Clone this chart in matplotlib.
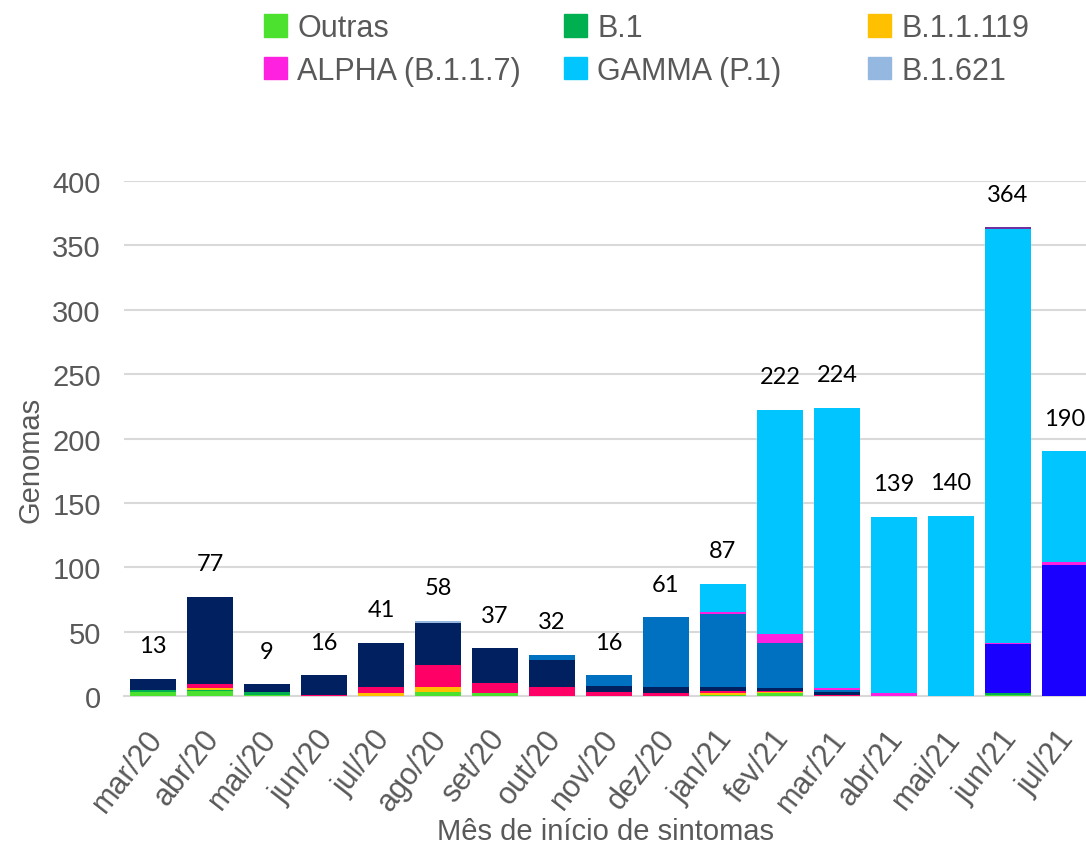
import numpy as np
import matplotlib
matplotlib.use('Agg')
import matplotlib.pyplot as plt
import matplotlib.transforms as mtransforms
from matplotlib.patches import Patch

months = ['mar/20', 'abr/20', 'mai/20', 'jun/20', 'jul/20', 'ago/20', 'set/20', 'out/20',
          'nov/20', 'dez/20', 'jan/21', 'fev/21', 'mar/21', 'abr/21', 'mai/21', 'jun/21', 'jul/21']

# genomes per lineage, stacked bottom to top
outras   = [3, 4, 1, 0, 0, 3, 2, 0, 0, 0, 1, 2, 0, 0, 0, 1, 0]
b1       = [2, 1, 2, 0, 0, 0, 0, 0, 0, 0, 0, 0, 0, 0, 0, 1, 0]
b11119   = [0, 1, 0, 0, 2, 4, 0, 0, 0, 0, 1, 1, 0, 0, 0, 0, 0]
b1133    = [0, 3, 0, 1, 5, 17, 8, 7, 3, 2, 2, 1, 1, 0, 0, 0, 0]
b1128    = [8, 68, 6, 15, 34, 33, 27, 21, 5, 5, 3, 2, 2, 0, 0, 0, 0]
p2       = [0, 0, 0, 0, 0, 0, 0, 4, 8, 54, 57, 35, 2, 0, 0, 0, 0]
delta    = [0, 0, 0, 0, 0, 0, 0, 0, 0, 0, 0, 0, 0, 0, 0, 38, 102]
alpha    = [0, 0, 0, 0, 0, 0, 0, 0, 0, 0, 1, 7, 1, 2, 0, 1, 2]
gamma    = [0, 0, 0, 0, 0, 0, 0, 0, 0, 0, 22, 174, 218, 137, 140, 322, 86]
b1621    = [0, 0, 0, 0, 0, 1, 0, 0, 0, 0, 0, 0, 0, 0, 0, 0, 0]
other    = [0, 0, 0, 0, 0, 0, 0, 0, 0, 0, 0, 0, 0, 0, 0, 1, 0]

series = [
    ('Outras', outras, '#4CE12E'),
    ('B.1', b1, '#00B050'),
    ('B.1.1.119', b11119, '#FFC000'),
    ('B.1.1.33', b1133, '#FF0066'),
    ('B.1.1.28', b1128, '#002060'),
    ('P.2', p2, '#0070C0'),
    ('DELTA', delta, '#1A00FF'),
    ('ALPHA (B.1.1.7)', alpha, '#FF21E0'),
    ('GAMMA (P.1)', gamma, '#00C5FF'),
    ('B.1.621', b1621, '#95B8E0'),
    ('Outra', other, '#7030A0'),
]
legend_cols = [['Outras', 'ALPHA (B.1.1.7)'], ['B.1', 'GAMMA (P.1)'], ['B.1.1.119', 'B.1.621']]

gray = '#595959'
fig = plt.figure(figsize=(10.86, 8.53), dpi=100)
ax = fig.add_axes([0.1146, 0.1829, 0.8854, 0.6037])

x = np.arange(len(months))
bottom = np.zeros(len(months))
colors = {}
for name, vals, col in series:
    ax.bar(x, vals, 0.82, bottom=bottom, color=col, label=name, zorder=3)
    bottom += np.array(vals)
    colors[name] = col

for xi, tot in zip(x, bottom):
    ax.annotate(f'{int(tot)}', (xi, tot), xytext=(0, 24), textcoords='offset points',
                ha='center', va='center', fontsize=17, family='Lato', color='black')

ax.set_xlim(-0.5, -0.5 + (1086 - 124.5) / 57)
ax.set_ylim(0, 400)
ax.set_yticks(range(0, 401, 50))
ax.set_xticks(x)
ax.set_xticklabels(months, rotation=52, ha='right', rotation_mode='anchor')
ax.tick_params(length=0, labelsize=21, labelcolor=gray, pad=17)
ax.tick_params(axis='x', labelsize=22, pad=20)
shift = mtransforms.ScaledTranslation(-0.08, 0, fig.dpi_scale_trans)
for lab in ax.get_xticklabels():
    lab.set_transform(lab.get_transform() + shift)
for lab in ax.get_xticklabels() + ax.get_yticklabels():
    lab.set_family('Liberation Sans')
ax.grid(axis='y', color='#D9D9D9', linewidth=1.5, zorder=0)
for s in ['top', 'right', 'left']:
    ax.spines[s].set_visible(False)
ax.spines['bottom'].set_color('#D9D9D9')
ax.spines['bottom'].set_linewidth(1.5)

fig.text(0.028, 0.461, 'Genomas', fontsize=21, color=gray, family='Liberation Sans',
         rotation=90, ha='center', va='center')
fig.text(0.558, 0.025, 'Mês de início de sintomas', fontsize=21, color=gray,
         family='Liberation Sans', ha='center', va='center')

col_x = [0.2265, 0.5028, 0.7827]
for cx, names in zip(col_x, legend_cols):
    handles = [Patch(color=colors[n], label=n) for n in names]
    fig.legend(handles=handles, loc='upper left', bbox_to_anchor=(cx, 1.005),
               frameon=False, handlelength=0.75, handleheight=0.75, handletextpad=0.33,
               labelspacing=0.42, prop={'family': 'Liberation Sans', 'size': 22},
               labelcolor=gray, borderaxespad=0.2)

fig.savefig('out.png', dpi=100)
